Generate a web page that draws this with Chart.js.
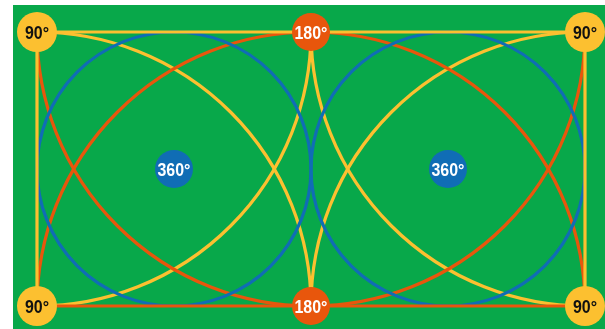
<!DOCTYPE html>
<html lang="en">
<head>
    <meta charset="UTF-8">
    <script src="https://cdn.jsdelivr.net/npm/chart.js"></script>
    <title>Field turns</title>
    <style>
        html, body {
            margin: 0;
            padding: 0;
            background: #fff;
        }
        #wrap {
            width: 605px;
            height: 329px;
        }
    </style>
</head>
<body>
    <div id="wrap"><canvas id="fieldChart"></canvas></div>

    <script>
        // field is 2 x 1 units (two squares side by side)
        const fieldX = [0, 2];
        const fieldY = [0, 1];

        // marker points and their labels
        const cornerX = [0, 2, 0, 2];
        const cornerY = [1, 1, 0, 0];
        const midX = [1, 1];
        const midY = [1, 0];
        const centreX = [0.5, 1.5];
        const centreY = [0.5, 0.5];
        const markerLabels = ['90°', '180°', '360°'];

        // circles (centre + radius in field units), clipped to the field
        const yellowArcRadius = 1;   // centred on the corners
        const orangeArcRadius = 1;   // centred on the 180 points
        const blueCircleRadius = 0.5; // centred on the 360 points

        const GREEN = '#08a84a';
        const YELLOW = '#fcc030';
        const ORANGE = '#e8560c';
        const BLUE = '#106db5';

        const pts = (xs, ys) => xs.map((x, i) => ({ x: x, y: ys[i] }));

        const backdrop = {
            id: 'backdrop',
            beforeDraw(chart) {
                const { ctx, chartArea } = chart;
                ctx.save();
                ctx.fillStyle = '#fff';
                ctx.fillRect(0, 0, chart.width, chart.height);
                ctx.fillStyle = GREEN;
                ctx.fillRect(chartArea.left - 24, chartArea.top - 27, chart.width, chart.height);
                ctx.restore();
            }
        };

        const circles = [
            { xs: cornerX, ys: cornerY, r: yellowArcRadius, color: YELLOW },
            { xs: midX, ys: midY, r: orangeArcRadius, color: ORANGE },
            { xs: centreX, ys: centreY, r: blueCircleRadius, color: BLUE }
        ];

        const arcs = {
            id: 'arcs',
            beforeDatasetsDraw(chart) {
                const { ctx, chartArea, scales } = chart;
                ctx.save();
                ctx.beginPath();
                ctx.rect(chartArea.left - 2, chartArea.top - 2, chartArea.width + 4, chartArea.height + 4);
                ctx.clip();
                ctx.lineWidth = 3.2;
                circles.forEach(c => {
                    ctx.strokeStyle = c.color;
                    c.xs.forEach((x, i) => {
                        const px = scales.x.getPixelForValue(x);
                        const py = scales.y.getPixelForValue(c.ys[i]);
                        const rx = Math.abs(scales.x.getPixelForValue(x + c.r) - px);
                        const ry = Math.abs(scales.y.getPixelForValue(c.ys[i] + c.r) - py);
                        ctx.beginPath();
                        ctx.ellipse(px, py, rx, ry, 0, 0, Math.PI * 2);
                        ctx.stroke();
                    });
                });
                ctx.restore();
            }
        };

        const labels = {
            id: 'labels',
            afterDatasetsDraw(chart) {
                const ctx = chart.ctx;
                chart.data.datasets.forEach((ds, i) => {
                    if (!ds.labelText) return;
                    chart.getDatasetMeta(i).data.forEach(el => {
                        ctx.save();
                        ctx.translate(el.x, el.y + 7);
                        ctx.scale(0.84, 1);
                        ctx.textAlign = 'center';
                        ctx.textBaseline = 'alphabetic';
                        ctx.font = 'bold 19px "Liberation Sans", Arial, sans-serif';
                        ctx.fillStyle = ds.labelColor;
                        ctx.fillText(ds.labelText, 0, 0);
                        ctx.restore();
                    });
                });
            }
        };

        const ctx = document.getElementById('fieldChart').getContext('2d');
        new Chart(ctx, {
            type: 'scatter',
            data: {
                datasets: [
                    {
                        data: pts(cornerX, cornerY),
                        labelText: markerLabels[0], labelColor: '#111',
                        pointRadius: 20, pointBackgroundColor: YELLOW, pointBorderWidth: 0,
                        clip: false
                    },
                    {
                        data: pts(midX, midY),
                        labelText: markerLabels[1], labelColor: '#fff',
                        pointRadius: 19, pointBackgroundColor: ORANGE, pointBorderWidth: 0,
                        clip: false
                    },
                    {
                        data: pts(centreX, centreY),
                        labelText: markerLabels[2], labelColor: '#fff',
                        pointRadius: 19, pointBackgroundColor: BLUE, pointBorderWidth: 0,
                        clip: false
                    },
                    // field border: yellow top and sides, orange bottom
                    {
                        data: [{ x: fieldX[0], y: fieldY[0] }, { x: fieldX[0], y: fieldY[1] }, { x: fieldX[1], y: fieldY[1] }, { x: fieldX[1], y: fieldY[0] }],
                        showLine: true, borderColor: YELLOW, borderWidth: 3.2, pointRadius: 0,
                        clip: false
                    },
                    {
                        data: [{ x: fieldX[0], y: fieldY[0] }, { x: fieldX[1], y: fieldY[0] }],
                        showLine: true, borderColor: ORANGE, borderWidth: 3.2, pointRadius: 0,
                        clip: false
                    }
                ]
            },
            options: {
                responsive: true,
                maintainAspectRatio: false,
                animation: false,
                layout: { padding: { left: 37, top: 32, right: 19, bottom: 23 } },
                scales: {
                    x: { type: 'linear', min: fieldX[0], max: fieldX[1], display: false },
                    y: { type: 'linear', min: fieldY[0], max: fieldY[1], display: false }
                },
                plugins: {
                    legend: { display: false },
                    tooltip: { enabled: false }
                }
            },
            plugins: [backdrop, arcs, labels]
        });
    </script>
</body>
</html>
